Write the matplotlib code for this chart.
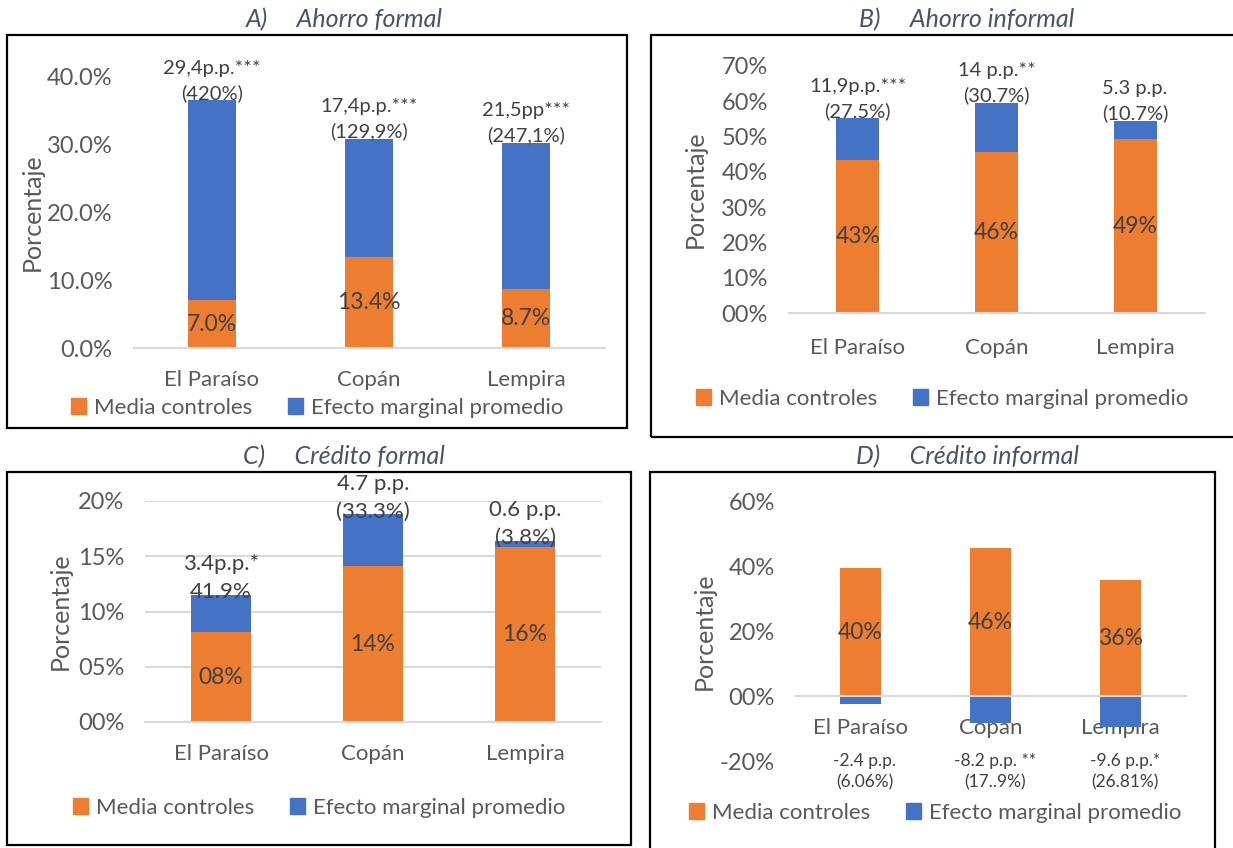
import matplotlib
matplotlib.use("Agg")
import matplotlib.pyplot as plt
from matplotlib.patches import Patch, Rectangle
from matplotlib.ticker import FuncFormatter

plt.rcParams["font.family"] = ["Lato", "DejaVu Sans"]

# Data (percent)
regions = ["El Paraíso", "Copán", "Lempira"]

ahorro_formal_media = [7.0, 13.4, 8.7]
ahorro_formal_efecto = [29.4, 17.4, 21.5]
ahorro_formal_labels = ["29,4p.p.***\n(420%)", "17,4p.p.***\n(129,9%)", "21,5pp***\n(247,1%)"]

ahorro_informal_media = [43.3, 45.6, 49.2]
ahorro_informal_efecto = [11.9, 14.0, 5.3]
ahorro_informal_labels = ["11,9p.p.***\n(27.5%)", "14 p.p.**\n(30.7%)", "5.3 p.p.\n(10.7%)"]

credito_formal_media = [8.1, 14.1, 15.8]
credito_formal_efecto = [3.4, 4.7, 0.6]
credito_formal_labels = ["3.4p.p.*\n41.9%", "4.7 p.p.\n(33.3%)", "0.6 p.p.\n(3.8%)"]

credito_informal_media = [39.6, 45.8, 35.8]
credito_informal_efecto = [-2.4, -8.2, -9.6]
credito_informal_labels = ["-2.4 p.p.\n(6.06%)", "-8.2 p.p. **\n(17..9%)", "-9.6 p.p.*\n(26.81%)"]

ORANGE = "#ED7D31"
BLUE = "#4472C4"
GRID = "#D9D9D9"
TICK_COLOR = "#595959"
LABEL_COLOR = "#404040"
TITLE_COLOR = "#44546A"

W, H = 1233, 848
fig = plt.figure(figsize=(W / 100, H / 100), dpi=100)


def px_axes(x0, x1, y_top, y_bot):
    return fig.add_axes([x0 / W, 1 - y_bot / H, (x1 - x0) / W, (y_bot - y_top) / H])


def draw_panel(ax, media, efecto, labels, yticks, fmt_axis, fmt_bar, bar_w,
               grid=False, lab_size=14.5, lab_off=14, below=False):
    x = list(range(len(regions)))
    ax.bar(x, media, width=bar_w, color=ORANGE, zorder=2)
    if below:
        ax.bar(x, efecto, width=bar_w, color=BLUE, zorder=2)
    else:
        ax.bar(x, efecto, width=bar_w, bottom=media, color=BLUE, zorder=2)

    ax.set_xlim(-0.5, len(regions) - 0.5)
    ax.set_ylim(yticks[0], yticks[-1])
    ax.set_yticks(yticks)
    ax.yaxis.set_major_formatter(FuncFormatter(fmt_axis))
    ax.set_xticks(x)
    ax.set_xticklabels(regions)
    ax.tick_params(axis="y", length=0, pad=15, labelsize=17, labelcolor=TICK_COLOR)
    ax.tick_params(axis="x", length=0, pad=16, labelsize=16, labelcolor=TICK_COLOR)

    for s in ["top", "right", "left"]:
        ax.spines[s].set_visible(False)
    ax.spines["bottom"].set_color(GRID)
    ax.spines["bottom"].set_linewidth(1.5)
    if below:
        ax.spines["bottom"].set_position(("data", 0))
        ax.spines["bottom"].set_zorder(3)
    if grid:
        ax.yaxis.grid(True, color=GRID, linewidth=1.5)
        ax.set_axisbelow(True)

    ax.set_ylabel("Porcentaje", fontsize=18, color=TICK_COLOR, va="center")
    ax.set_facecolor("none")

    # values of the control means, centred in the orange segment
    for xi, m in zip(x, media):
        ax.text(xi, m / 2, fmt_bar(m), ha="center", va="center",
                fontsize=16.5, color=LABEL_COLOR, zorder=4)

    # marginal effect labels
    for xi, m, e, lab in zip(x, media, efecto, labels):
        if below:
            ax.annotate(lab, xy=(xi, 0), xycoords=("data", "axes fraction"),
                        xytext=(3, -8), textcoords="offset points",
                        ha="center", va="center", fontsize=12.5,
                        color=LABEL_COLOR, linespacing=1.4, annotation_clip=False)
        else:
            ax.annotate(lab, xy=(xi, m + e), xytext=(0, lab_off),
                        textcoords="offset points", ha="center", va="center",
                        fontsize=lab_size, color=LABEL_COLOR, linespacing=1.5,
                        zorder=4, annotation_clip=False)


def pct1(v, pos=None):
    return f"{v:.1f}%"


def pct0(v, pos=None):
    return f"{v:02.0f}%"


# A) Ahorro formal
axA = px_axes(133.5, 604.5, 76, 348)
draw_panel(axA, ahorro_formal_media, ahorro_formal_efecto, ahorro_formal_labels,
           [0, 10, 20, 30, 40], pct1, pct1, 0.31)
axA.yaxis.set_label_coords(-0.215, 0.5)

# B) Ahorro informal
axB = px_axes(788.5, 1204.5, 66, 313)
draw_panel(axB, ahorro_informal_media, ahorro_informal_efecto, ahorro_informal_labels,
           [0, 10, 20, 30, 40, 50, 60, 70], pct0, pct0, 0.31)
axB.yaxis.set_label_coords(-0.225, 0.5)
axB.tick_params(axis="x", pad=18)

# C) Crédito formal
axC = px_axes(145, 601, 501, 722)
draw_panel(axC, credito_formal_media, credito_formal_efecto, credito_formal_labels,
           [0, 5, 10, 15, 20], pct0, pct0, 0.40, grid=True, lab_size=16, lab_off=12)
axC.yaxis.set_label_coords(-0.185, 0.5)

# D) Crédito informal
axD = px_axes(795.5, 1185.5, 502, 761)
draw_panel(axD, credito_informal_media, credito_informal_efecto, credito_informal_labels,
           [-20, 0, 20, 40, 60], pct0, pct0, 0.315, below=True)
axD.yaxis.set_label_coords(-0.235, 0.5)
axD.tick_params(axis="x", pad=16)

# titles
titles = [("A)     Ahorro formal", 344, 20), ("B)     Ahorro informal", 967, 20),
          ("C)     Crédito formal", 344, 457), ("D)     Crédito informal", 967, 457)]
for t, tx, ty in titles:
    fig.text(tx / W, 1 - ty / H, t, ha="center", va="center", fontsize=18,
             style="italic", color=TITLE_COLOR)

# frames around each chart
frames = [(7, 35, 627, 428), (651, 35, 1245, 437), (7, 472, 631, 845), (650, 472, 1215, 860)]
for x0, y0, x1, y1 in frames:
    fig.patches.append(Rectangle((x0 / W, 1 - y1 / H), (x1 - x0) / W, (y1 - y0) / H,
                                 transform=fig.transFigure, fill=False,
                                 edgecolor="black", linewidth=1.6))

# legends
handles = [Patch(color=ORANGE), Patch(color=BLUE)]
names = ["Media controles", "Efecto marginal promedio"]
for ax, lx, ly in [(axA, 317, 408), (axB, 942, 399), (axC, 319, 808), (axD, 935, 813)]:
    ax.legend(handles, names, loc="center", bbox_to_anchor=(lx / W, 1 - ly / H),
              bbox_transform=fig.transFigure, ncol=2, frameon=False,
              handlelength=0.7, handleheight=0.7, handletextpad=0.35,
              columnspacing=1.6, fontsize=16, labelcolor=TICK_COLOR,
              borderpad=0, borderaxespad=0)

fig.savefig("out.png", dpi=100)
